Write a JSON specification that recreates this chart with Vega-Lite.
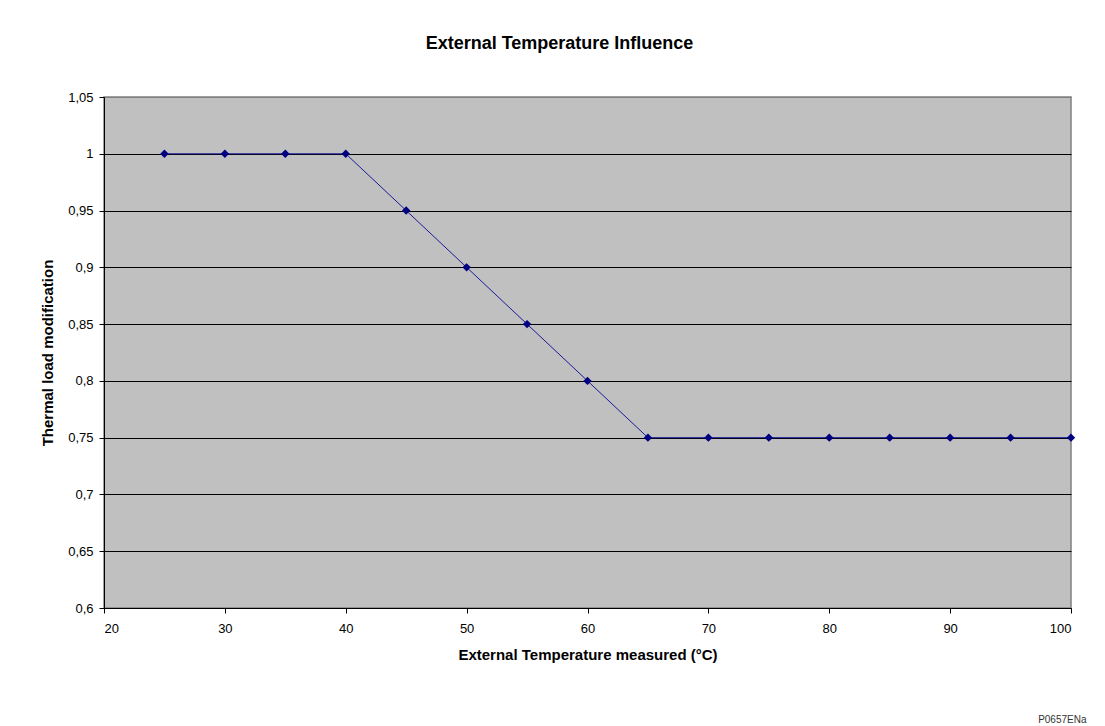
{
  "$schema": "https://vega.github.io/schema/vega-lite/v6.json",
  "width": 967,
  "height": 511,
  "autosize": "none",
  "padding": {"left": 104, "top": 97, "right": 34, "bottom": 118},
  "background": "white",
  "title": {
    "text": "External Temperature Influence",
    "font": "Liberation Sans",
    "fontSize": 18,
    "fontWeight": "bold",
    "color": "#000000",
    "anchor": "middle",
    "dx": -28,
    "offset": 38
  },
  "data": {
    "values": [
      {"temp": 25, "mod": 1},
      {"temp": 30, "mod": 1},
      {"temp": 35, "mod": 1},
      {"temp": 40, "mod": 1},
      {"temp": 45, "mod": 0.95},
      {"temp": 50, "mod": 0.9},
      {"temp": 55, "mod": 0.85},
      {"temp": 60, "mod": 0.8},
      {"temp": 65, "mod": 0.75},
      {"temp": 70, "mod": 0.75},
      {"temp": 75, "mod": 0.75},
      {"temp": 80, "mod": 0.75},
      {"temp": 85, "mod": 0.75},
      {"temp": 90, "mod": 0.75},
      {"temp": 95, "mod": 0.75},
      {"temp": 100, "mod": 0.75}
    ]
  },
  "encoding": {
    "y": {
      "field": "mod",
      "type": "quantitative",
      "scale": {"domain": [0.6, 1.05], "nice": false, "zero": false},
      "axis": {
        "values": [0.6, 0.65, 0.7, 0.75, 0.8, 0.85, 0.9, 0.95, 1, 1.05],
        "labelExpr": "replace(format(datum.value, '.2~f'), '.', ',')",
        "title": "Thermal load modification",
        "grid": true,
        "gridColor": {"condition": {"test": "datum.value >= 1.04", "value": "#808080"}, "value": "#000000"},
        "gridWidth": 1,
        "gridOpacity": 1,
        "domainColor": "#000000",
        "tickColor": "#000000",
        "tickSize": 5,
        "labelPadding": 6,
        "labelFont": "Liberation Sans",
        "labelFontSize": 13,
        "labelColor": "#000000",
        "titleFont": "Liberation Sans",
        "titleFontSize": 15,
        "titleFontWeight": "bold",
        "titleColor": "#000000",
        "titleX": -57,
        "titleBaseline": "middle"
      }
    }
  },
  "layer": [
    {
      "mark": {"type": "line", "color": "#1a1a99", "strokeWidth": 1},
      "encoding": {
        "x": {
          "field": "temp",
          "type": "quantitative",
          "scale": {"domain": [20, 100], "nice": false, "zero": false},
          "axis": {
            "orient": "bottom",
            "values": [20, 30, 40, 50, 60, 70, 80, 90, 100],
            "title": "External Temperature measured (°C)",
            "grid": false,
            "domainColor": "#000000",
            "tickColor": "#000000",
            "tickSize": 5,
            "labelPadding": 9,
            "labelFont": "Liberation Sans",
            "labelFontSize": 13,
            "labelColor": "#000000",
            "titleFont": "Liberation Sans",
            "titleFontSize": 15,
            "titleFontWeight": "bold",
            "titleColor": "#000000",
            "titlePadding": 12
          }
        }
      }
    },
    {
      "mark": {"type": "point", "shape": "diamond", "filled": true, "color": "#000080", "size": 70, "opacity": 1},
      "encoding": {
        "x": {
          "field": "temp",
          "type": "quantitative",
          "axis": {
            "orient": "bottom",
            "domain": false,
            "ticks": false,
            "labels": false,
            "grid": false,
            "title": "P0657ENa",
            "titleFont": "Liberation Sans",
            "titleFontSize": 10,
            "titleFontWeight": "normal",
            "titleColor": "#333333",
            "titleAlign": "right",
            "titleAnchor": null,
            "titleX": 982,
            "titleY": 111,
            "titleBaseline": "middle"
          }
        }
      }
    }
  ],
  "resolve": {"axis": {"x": "independent"}},
  "config": {
    "view": {"fill": "#C0C0C0", "stroke": "#808080", "strokeWidth": 1.5}
  }
}
